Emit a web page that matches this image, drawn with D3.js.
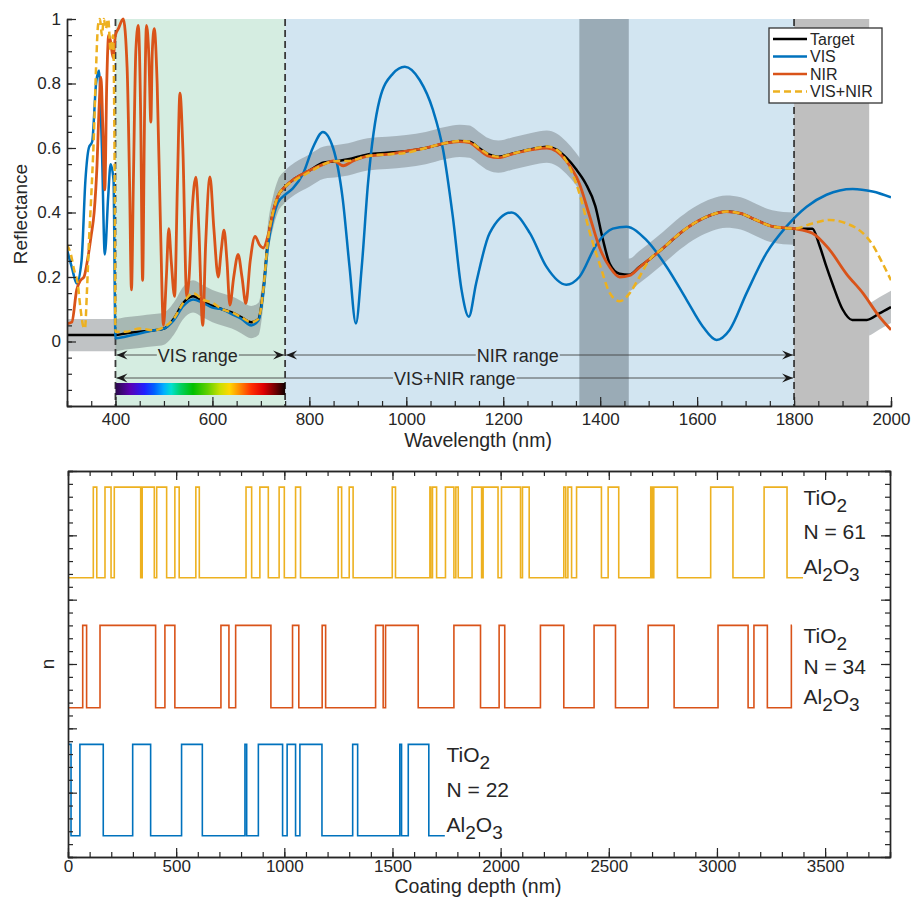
<!DOCTYPE html>
<html>
<head>
<meta charset="utf-8">
<script src="https://cdn.jsdelivr.net/npm/d3@7"></script>
<style>
  body { margin: 0; background: #fff; }
  svg text { font-family: "Liberation Sans", Arial, Helvetica, sans-serif; fill: #262626; }
</style>
</head>
<body>
<svg id="chart" width="912" height="902"></svg>
<script>
// ------------------------------------------------------------------
// data : reflectance spectra (wavelength in nm, reflectance)
// ------------------------------------------------------------------
const targetWl = [300, 400, 420, 450, 480, 500, 520, 540, 560, 580, 600, 620, 640, 660, 680, 695, 705, 715, 725, 735,
  750, 770, 800, 830, 860, 880, 920, 960, 1000, 1040, 1080, 1110, 1130, 1150, 1170, 1190, 1220, 1260, 1290, 1310,
  1330, 1350, 1370, 1390, 1405, 1420, 1440, 1460, 1480, 1500, 1530, 1565, 1600, 1630, 1660, 1690, 1720, 1755, 1800, 1838,
  1852, 1865, 1879, 1900, 1920, 1950, 1976, 2000];
const targetR = [0.02, 0.02, 0.025, 0.03, 0.035, 0.04, 0.07, 0.12, 0.14, 0.125, 0.11, 0.10, 0.09, 0.075, 0.06, 0.07, 0.16, 0.32, 0.40, 0.45,
  0.48, 0.505, 0.53, 0.555, 0.56, 0.565, 0.58, 0.585, 0.59, 0.60, 0.615, 0.622, 0.62, 0.60, 0.58, 0.573, 0.583, 0.597, 0.604, 0.595,
  0.57, 0.535, 0.49, 0.42, 0.32, 0.24, 0.21, 0.207, 0.23, 0.253, 0.29, 0.336, 0.372, 0.393, 0.403, 0.397, 0.378, 0.357, 0.35, 0.35,
  0.30, 0.24, 0.18, 0.10, 0.067, 0.067, 0.087, 0.107];

const visWl = [300, 310, 320, 330, 338, 345, 352, 360, 366, 372, 378, 385, 390, 396, 400, 420, 450, 480, 500, 520,
  540, 560, 580, 600, 620, 640, 660, 680, 695, 705, 715, 725, 735, 750, 766, 787, 807, 828, 849, 869,
  883, 896, 908, 921, 945, 972, 997, 1028, 1055, 1076, 1096, 1114, 1129, 1144, 1172, 1217, 1255, 1289, 1330, 1357,
  1392, 1426, 1454, 1495, 1537, 1578, 1612, 1640, 1667, 1702, 1743, 1784, 1826, 1867, 1921, 1962, 2000];
const visR = [0.285, 0.23, 0.18, 0.25, 0.50, 0.60, 0.62, 0.80, 0.84, 0.60, 0.27, 0.45, 0.55, 0.50, 0.01, 0.015, 0.025, 0.035, 0.04, 0.065,
  0.11, 0.13, 0.12, 0.105, 0.10, 0.085, 0.07, 0.05, 0.065, 0.15, 0.30, 0.38, 0.43, 0.455, 0.475, 0.52, 0.60, 0.65, 0.60, 0.44,
  0.23, 0.056, 0.23, 0.49, 0.75, 0.83, 0.852, 0.81, 0.718, 0.594, 0.387, 0.16, 0.077, 0.18, 0.336, 0.40, 0.336, 0.232, 0.176, 0.20,
  0.30, 0.35, 0.356, 0.315, 0.232, 0.13, 0.046, 0.005, 0.036, 0.15, 0.274, 0.356, 0.418, 0.455, 0.473, 0.465, 0.447];

const nirWl = [300, 310, 320, 328, 335, 342, 350, 356, 362, 366, 370, 374, 378, 382, 386, 390, 395, 400, 406, 416,
  424, 429, 433, 437, 442, 447, 452, 456, 460, 464, 469, 473, 476, 480, 486, 493, 499, 505, 510, 515,
  522, 528, 533, 539, 547, 552, 558, 566, 572, 580, 586, 595, 603, 612, 618, 624, 630, 636, 644, 653,
  661, 669, 678, 688, 697, 705, 715, 725, 735, 750, 770, 800, 830, 850, 870, 890, 920, 960, 1000, 1040,
  1080, 1110, 1130, 1150, 1170, 1190, 1220, 1260, 1290, 1310, 1330, 1357, 1378, 1399, 1420, 1440, 1461, 1481, 1500, 1530,
  1565, 1600, 1630, 1660, 1690, 1720, 1755, 1800, 1838, 1873, 1908, 1942, 1976, 2000];
const nirR = [0.055, 0.06, 0.16, 0.19, 0.20, 0.25, 0.33, 0.40, 0.55, 0.72, 0.82, 0.66, 0.47, 0.80, 0.95, 0.93, 0.88, 0.95, 0.97, 1.0,
  0.85, 0.5, 0.16, 0.5, 0.9, 0.98, 0.7, 0.19, 0.7, 0.98, 0.88, 0.68, 0.9, 0.97, 0.8, 0.35, 0.05, 0.2, 0.35, 0.25,
  0.14, 0.5, 0.77, 0.6, 0.14, 0.2, 0.4, 0.51, 0.35, 0.05, 0.3, 0.51, 0.35, 0.2, 0.28, 0.345, 0.25, 0.113, 0.2, 0.27,
  0.2, 0.118, 0.25, 0.326, 0.3, 0.29, 0.33, 0.40, 0.45, 0.48, 0.505, 0.53, 0.55, 0.56, 0.545, 0.56, 0.575, 0.58, 0.59, 0.60,
  0.615, 0.62, 0.617, 0.595, 0.575, 0.57, 0.582, 0.595, 0.6, 0.59, 0.56, 0.49, 0.39, 0.29, 0.23, 0.20, 0.205, 0.23, 0.253, 0.29,
  0.336, 0.372, 0.393, 0.403, 0.397, 0.378, 0.357, 0.35, 0.336, 0.285, 0.21, 0.15, 0.077, 0.036];

const bothWl = [300, 308, 315, 322, 328, 333, 337, 341, 345, 350, 355, 360, 364, 368, 372, 376, 380, 385, 390, 395,
  398, 400, 420, 450, 480, 500, 520, 540, 560, 580, 600, 620, 640, 660, 680, 695, 705, 715, 725, 735,
  750, 770, 800, 830, 860, 880, 920, 960, 1000, 1040, 1080, 1110, 1130, 1150, 1170, 1190, 1220, 1260, 1290, 1310,
  1330, 1357, 1380, 1399, 1420, 1440, 1461, 1481, 1500, 1530, 1565, 1600, 1630, 1660, 1690, 1720, 1755, 1800, 1838, 1873,
  1908, 1942, 1962, 1980, 2000];
const bothR = [0.30, 0.27, 0.22, 0.18, 0.10, 0.05, 0.04, 0.15, 0.30, 0.45, 0.62, 0.85, 0.98, 1.0, 0.95, 1.0, 0.97, 1.0, 0.90, 0.95,
  0.60, 0.03, 0.03, 0.04, 0.035, 0.045, 0.07, 0.12, 0.15, 0.13, 0.12, 0.10, 0.09, 0.075, 0.06, 0.07, 0.16, 0.32, 0.40, 0.45,
  0.48, 0.50, 0.525, 0.55, 0.56, 0.56, 0.575, 0.58, 0.585, 0.60, 0.615, 0.622, 0.62, 0.60, 0.58, 0.573, 0.583, 0.597, 0.605, 0.595,
  0.56, 0.46, 0.33, 0.24, 0.15, 0.125, 0.15, 0.20, 0.25, 0.29, 0.336, 0.372, 0.393, 0.403, 0.397, 0.378, 0.357, 0.35, 0.366, 0.377,
  0.366, 0.336, 0.30, 0.25, 0.19];

const tolerance = 0.05;     // +- band around the target

// shaded wavelength regions
const regionFrom  = [400, 750, 1357, 1800];
const regionTo    = [750, 1800, 1459, 1955];
const regionColor = ["#d5ede1", "#d2e5f1", "#9aabb6", "#bfbfbf"];

const rangeBounds = [400, 750, 1800];      // dashed lines

// range arrows
const arrowFrom  = [400, 750, 400];
const arrowTo    = [750, 1800, 1800];
const arrowText  = ["VIS range", "NIR range", "VIS+NIR range"];
const arrowTextAt = [570, 1230, 1100];

// visible spectrum bar
const specWl  = [400, 430, 460, 480, 500, 515, 535, 560, 590, 615, 635, 655, 680, 705, 730, 750];
const specCol = ["#2a0a4a", "#5a00b4", "#2020ff", "#0060ff", "#00b0ff", "#00e0d0", "#00d060", "#00c000",
  "#60d000", "#c8e000", "#ffd800", "#ff9000", "#ff3000", "#e00000", "#700000", "#100000"];

const legendNames = ["Target", "VIS", "NIR", "VIS+NIR"];
const seriesColor = ["#000000", "#0072bd", "#d95319", "#edb120"];

// ------------------------------------------------------------------
// data : layer stacks (layer boundaries along coating depth, nm)
// ------------------------------------------------------------------
const designNames = ["VIS", "NIR", "VIS+NIR"];
const visBounds = [0, 14, 55, 163, 299, 382, 525, 621, 818, 826, 880, 992, 1013, 1052, 1072, 1174, 1316, 1339,
  1534, 1542, 1573, 1668, 1742];
const nirBounds = [0, 68, 86, 148, 405, 448, 494, 707, 744, 775, 938, 1038, 1067, 1175, 1191, 1422, 1457, 1468,
  1619, 1784, 1907, 1993, 2019, 2184, 2292, 2432, 2531, 2682, 2802, 3005, 3144, 3171, 3233, 3344, 3347];
const bothBounds = [0, 117, 133, 171, 199, 214, 336, 343, 399, 410, 456, 494, 514, 591, 607, 823, 849, 887, 926,
  976, 1000, 1052, 1075, 1249, 1265, 1300, 1318, 1499, 1514, 1673, 1677, 1685, 1704, 1745, 1784, 1793, 1804,
  1868, 1912, 1919, 1988, 2004, 2092, 2101, 2132, 2292, 2301, 2311, 2328, 2351, 2466, 2497, 2546, 2694, 2701,
  2708, 2817, 2971, 3074, 3218, 3324, 3398];
const firstIsTiO2 = [true, false, false];
const levelAl2O3 = [0.33, 2.32, 4.34];     // offset index profiles
const levelTiO2  = [1.75, 3.60, 5.75];
const layerCount = [22, 34, 61];

// ------------------------------------------------------------------
// top graph : reflectance
// ------------------------------------------------------------------
const svg = d3.select("#chart");
const axisColor = "#262626";

const xW = d3.scaleLinear().domain([300, 2000]).range([67, 891]);
const yR = d3.scaleLinear().domain([-0.2, 1]).range([406, 19]);

const zip = (a, b) => a.map((v, i) => [v, b[i]]);
const target = zip(targetWl, targetR);
const series = [target, zip(visWl, visR), zip(nirWl, nirR), zip(bothWl, bothR)];

const topG = svg.append("g");

// light backgrounds (green / blue)
for (let i = 0; i < 2; i++) {
  topG.append("rect")
    .attr("x", xW(regionFrom[i])).attr("y", yR(1))
    .attr("width", xW(regionTo[i]) - xW(regionFrom[i]))
    .attr("height", yR(-0.2) - yR(1))
    .attr("fill", regionColor[i]);
}

// tolerance band around target
const band = d3.area()
  .x(d => xW(d[0]))
  .y0(d => yR(d[1] - tolerance))
  .y1(d => yR(d[1] + tolerance))
  .curve(d3.curveMonotoneX);
topG.append("path").datum(target)
  .attr("d", band)
  .attr("fill", "rgba(105,112,116,0.42)");

// dark absorption band and gray region on top of the band
for (let i = 2; i < 4; i++) {
  topG.append("rect")
    .attr("x", xW(regionFrom[i])).attr("y", yR(1))
    .attr("width", xW(regionTo[i]) - xW(regionFrom[i]))
    .attr("height", yR(-0.2) - yR(1))
    .attr("fill", regionColor[i]);
}

// dashed range limits
topG.selectAll(".bound").data(rangeBounds).enter().append("line")
  .attr("x1", d => xW(d)).attr("x2", d => xW(d))
  .attr("y1", yR(1)).attr("y2", yR(-0.2))
  .attr("stroke", "#3a3a3a").attr("stroke-width", 1.8)
  .attr("stroke-dasharray", "7,4");

// spectrum bar
const grad = svg.append("defs").append("linearGradient")
  .attr("id", "spectrum").attr("x1", "0%").attr("x2", "100%");
grad.selectAll("stop").data(specWl).enter().append("stop")
  .attr("offset", d => ((d - 400) / 350 * 100) + "%")
  .attr("stop-color", (d, i) => specCol[i]);
topG.append("rect")
  .attr("x", xW(400)).attr("y", 383)
  .attr("width", xW(750) - xW(400)).attr("height", 12)
  .attr("fill", "url(#spectrum)");

// range arrows
const arrowY = [355, 355, 378];
function arrow_head(x, y, dir)
{
  // dir = -1 : pointing left, +1 : pointing right
  const p = [[x, y], [x - dir * 11, y - 4.5], [x - dir * 7, y], [x - dir * 11, y + 4.5]];
  topG.append("path").attr("d", "M" + p.join("L") + "Z").attr("fill", "#1a1a1a");
}
arrowText.forEach((txt, i) => {
  const y = arrowY[i];
  const x1 = xW(arrowFrom[i]) + 1, x2 = xW(arrowTo[i]) - 1;
  const t = topG.append("text")
    .attr("x", xW(arrowTextAt[i])).attr("y", y + 6.5)
    .attr("text-anchor", "middle")
    .style("font-size", "18px")
    .text(txt);
  const w = t.node().getComputedTextLength();
  const tx = xW(arrowTextAt[i]);
  topG.append("line").attr("x1", x1).attr("x2", tx - w / 2 - 1).attr("y1", y).attr("y2", y)
    .attr("stroke", "#444").attr("stroke-width", 0.9);
  topG.append("line").attr("x1", tx + w / 2 + 1).attr("x2", x2).attr("y1", y).attr("y2", y)
    .attr("stroke", "#444").attr("stroke-width", 0.9);
  arrow_head(x1, y, -1);
  arrow_head(x2, y, 1);
});

// curves
svg.append("clipPath").attr("id", "topclip").append("rect")
  .attr("x", xW(300)).attr("y", yR(1) - 3)
  .attr("width", xW(2000) - xW(300)).attr("height", yR(-0.2) - yR(1) + 3);

const line = d3.line()
  .x(d => xW(d[0]))
  .y(d => yR(d[1]))
  .curve(d3.curveMonotoneX);

const curves = topG.append("g").attr("clip-path", "url(#topclip)");
series.forEach((s, i) => {
  curves.append("path").datum(s)
    .attr("d", line)
    .attr("fill", "none")
    .attr("stroke", seriesColor[i])
    .attr("stroke-width", i == 2 ? 2.8 : 2.5)
    .attr("stroke-linejoin", "round")
    .attr("stroke-dasharray", i == 3 ? "7,4" : null);
});

// axes
function style_axis(g)
{
  g.select(".domain").attr("stroke", axisColor).attr("stroke-width", 1.4);
  g.selectAll(".tick line").attr("stroke", axisColor).attr("stroke-width", 1.2);
  g.selectAll(".tick text").style("font-size", "17px").attr("fill", axisColor);
}

const fmt = d => String(+d.toFixed(1));

topG.append("g").attr("transform", "translate(" + xW(300) + ",0)")
  .call(d3.axisLeft(yR).tickValues(d3.range(-0.2, 1.0001, 0.05)).tickSize(-5).tickFormat(""))
  .call(style_axis);
topG.append("g").attr("transform", "translate(" + xW(300) + ",0)")
  .call(d3.axisLeft(yR).tickValues([0, 0.2, 0.4, 0.6, 0.8, 1]).tickSizeInner(-9).tickSizeOuter(0)
    .tickPadding(6).tickFormat(fmt))
  .call(style_axis);

topG.append("g").attr("transform", "translate(0," + yR(-0.2) + ")")
  .call(d3.axisBottom(xW).tickValues(d3.range(300, 2001, 50)).tickSize(-5).tickFormat(""))
  .call(style_axis);
topG.append("g").attr("transform", "translate(0," + yR(-0.2) + ")")
  .call(d3.axisBottom(xW).tickValues(d3.range(400, 2001, 200)).tickSizeInner(-9).tickSizeOuter(0)
    .tickPadding(7).tickFormat(d3.format("d")))
  .call(style_axis);

topG.append("text")
  .attr("transform", "translate(27,214) rotate(-90)")
  .attr("text-anchor", "middle")
  .style("font-size", "19px")
  .text("Reflectance");
topG.append("text")
  .attr("x", 478).attr("y", 447)
  .attr("text-anchor", "middle")
  .style("font-size", "19.5px")
  .text("Wavelength (nm)");

// legend
const leg = topG.append("g").attr("transform", "translate(769,28)");
leg.append("rect").attr("width", 113).attr("height", 75)
  .attr("fill", "#fff").attr("stroke", "#333").attr("stroke-width", 1.3);
legendNames.forEach((name, i) => {
  const y = 11 + i * 17.5;
  leg.append("line").attr("x1", 4).attr("x2", 38).attr("y1", y).attr("y2", y)
    .attr("stroke", seriesColor[i]).attr("stroke-width", 2.5)
    .attr("stroke-dasharray", i == 3 ? "7,4" : null);
  leg.append("text").attr("x", 41).attr("y", y + 5.5)
    .style("font-size", "16px")
    .text(name);
});

// ------------------------------------------------------------------
// bottom graph : refractive index profiles
// ------------------------------------------------------------------
const xD = d3.scaleLinear().domain([0, 3800]).range([68, 890]);
const yN = d3.scaleLinear().domain([0, 6]).range([857, 471]);
const botG = svg.append("g");

const bounds = [visBounds, nirBounds, bothBounds];
const stepColor = [seriesColor[1], seriesColor[2], seriesColor[3]];

bounds.forEach((b, k) => {
  let level = i => ((i % 2 == 0) == firstIsTiO2[k]) ? levelTiO2[k] : levelAl2O3[k];
  let d = "M" + xD(b[0]) + "," + yN(level(0));
  for (let i = 1; i < b.length; i++) {
    d += "H" + xD(b[i]);
    if (i < b.length - 1) d += "V" + yN(level(i));
  }
  botG.append("path").attr("d", d)
    .attr("fill", "none").attr("stroke", stepColor[k]).attr("stroke-width", 1.6);
});

// material labels
const labelDepth = [1750, 3400, 3400];
bounds.forEach((b, k) => {
  const x = xD(labelDepth[k]);
  const yH = yN(levelTiO2[k]), yL = yN(levelAl2O3[k]);
  const t1 = botG.append("text").attr("x", x).attr("y", yH + 18).style("font-size", "21px");
  t1.append("tspan").text("TiO");
  t1.append("tspan").attr("dy", 7).style("font-size", "19px").text("2");
  botG.append("text").attr("x", x).attr("y", (yH + yL) / 2 + 7).style("font-size", "21px")
    .text("N = " + layerCount[k]);
  const t3 = botG.append("text").attr("x", x).attr("y", yL - 4).style("font-size", "21px");
  t3.append("tspan").text("Al");
  t3.append("tspan").attr("dy", 7).style("font-size", "19px").text("2");
  t3.append("tspan").attr("dy", -7).text("O");
  t3.append("tspan").attr("dy", 7).style("font-size", "19px").text("3");
});

// frame with ticks on all sides
botG.append("g").attr("transform", "translate(0," + yN(0) + ")")
  .call(d3.axisBottom(xD).tickValues(d3.range(0, 3801, 100)).tickSize(-5).tickFormat(""))
  .call(style_axis);
botG.append("g").attr("transform", "translate(0," + yN(0) + ")")
  .call(d3.axisBottom(xD).tickValues(d3.range(0, 3501, 500)).tickSizeInner(-9).tickSizeOuter(0)
    .tickPadding(3).tickFormat(d3.format("d")))
  .call(style_axis);
botG.append("g").attr("transform", "translate(0," + yN(6) + ")")
  .call(d3.axisTop(xD).tickValues(d3.range(0, 3801, 100)).tickSize(-5).tickFormat(""))
  .call(style_axis);
botG.append("g").attr("transform", "translate(0," + yN(6) + ")")
  .call(d3.axisTop(xD).tickValues(d3.range(0, 3501, 500)).tickSizeInner(-9).tickSizeOuter(0).tickFormat(""))
  .call(style_axis);
botG.append("g").attr("transform", "translate(" + xD(0) + ",0)")
  .call(d3.axisLeft(yN).tickValues(d3.range(0, 6.001, 0.2)).tickSize(-5).tickFormat(""))
  .call(style_axis);
botG.append("g").attr("transform", "translate(" + xD(0) + ",0)")
  .call(d3.axisLeft(yN).tickValues(d3.range(0, 7, 1)).tickSizeInner(-9).tickSizeOuter(0).tickFormat(""))
  .call(style_axis);
botG.append("g").attr("transform", "translate(" + xD(3800) + ",0)")
  .call(d3.axisRight(yN).tickValues(d3.range(0, 6.001, 0.2)).tickSize(-5).tickFormat(""))
  .call(style_axis);
botG.append("g").attr("transform", "translate(" + xD(3800) + ",0)")
  .call(d3.axisRight(yN).tickValues(d3.range(0, 7, 1)).tickSizeInner(-9).tickSizeOuter(0).tickFormat(""))
  .call(style_axis);

botG.append("text")
  .attr("transform", "translate(54,664) rotate(-90)")
  .attr("text-anchor", "middle")
  .style("font-size", "19px")
  .text("n");
botG.append("text")
  .attr("x", 478).attr("y", 893)
  .attr("text-anchor", "middle")
  .style("font-size", "19.5px")
  .text("Coating depth (nm)");
</script>
</body>
</html>
